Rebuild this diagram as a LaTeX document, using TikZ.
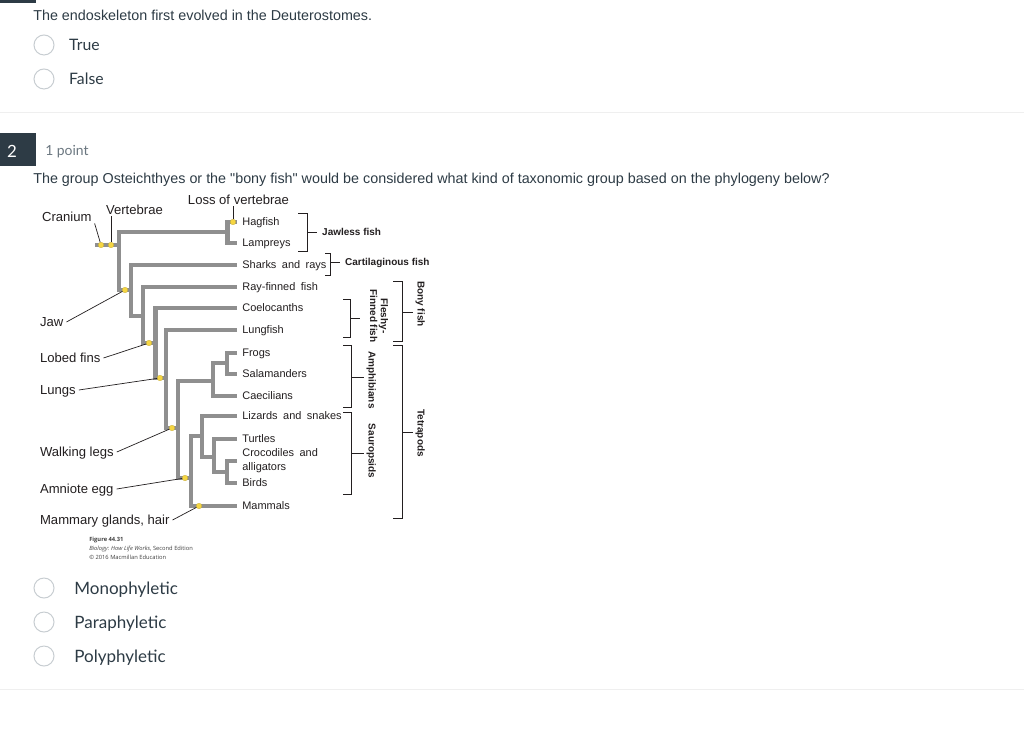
\documentclass[tikz,border=0pt]{standalone}
\usepackage{fontspec}
\setmainfont{Liberation Sans}[Ligatures=TeXOff]
\newfontfamily\latofont{Lato}
\newfontfamily\treefont[Ligatures=TeX, WordSpace=1.8]{Liberation Sans}
\newfontfamily\creditfont{Open Sans}
\usetikzlibrary{positioning}

\definecolor{canvasdark}{HTML}{2D3B45}
\definecolor{pointgray}{HTML}{6B7780}
\definecolor{radiogray}{HTML}{C7CDD1}
\definecolor{rulegray}{HTML}{EFEFEF}
\definecolor{branchgray}{RGB}{143,143,143}
\definecolor{dotyellow}{RGB}{246,214,66}
\definecolor{inkblack}{HTML}{231F20}

\begin{document}
\begin{tikzpicture}[x=0.025cm, y=-0.025cm,
  question/.style={anchor=base west, inner sep=0pt, text=canvasdark, font=\fontsize{10.2}{12}\selectfont},
  radio/.style={circle, draw=radiogray, line width=0.7pt, minimum size=0.5cm, inner sep=0pt},
  answer/.style={inner sep=0pt, text=canvasdark, font=\latofont\fontsize{11.2}{13}\selectfont, text height=8pt, text depth=0pt},
  bigans/.style={answer, font=\latofont\fontsize{12.1}{14}\selectfont, text height=8.7pt},
  branch/.style={draw=branchgray, line width=3.4pt},
  taxon/.style={anchor=west, inner xsep=3.6pt, inner ysep=0pt, text=inkblack, font=\treefont\fontsize{7.8}{10}\selectfont, text height=5.6pt, text depth=0pt},
  trait/.style={anchor=west, inner xsep=2pt, inner ysep=1pt, text=inkblack, font=\fontsize{9.3}{11}\selectfont, text height=6.7pt, text depth=0pt},
  dot/.style={circle, fill=dotyellow, draw=dotyellow!80!black, line width=0.2pt, minimum size=0.14cm, inner sep=0pt},
  leader/.style={draw=inkblack, line width=0.5pt},
  brack/.style={draw=inkblack, line width=0.6pt},
  group/.style={anchor=west, inner xsep=3.5pt, inner ysep=0pt, text=inkblack, font=\bfseries\fontsize{7.1}{7.6}\selectfont, text height=5.1pt, text depth=0pt},
  grouprot/.style={group, rotate=-90, anchor=south, inner xsep=0pt, inner ysep=3pt},
]
\fill[white] (0,0) rectangle (1024,741);
\useasboundingbox (0,0) rectangle (1024,741);

% page chrome
\fill[canvasdark] (0,0) rectangle (36,3);
\draw[rulegray, line width=0.7pt] (0,112) -- (1024,112);
\draw[rulegray, line width=0.7pt] (0,689) -- (1024,689);

% question 1
\node (q1) [question] at (33,21) {The endoskeleton first evolved in the Deuterostomes.};
\node (rtrue) [radio] at (44,45) {};
\node (rfalse) [radio] at (44,79) {};
\node (true) [answer, right=0.36cm of rtrue] {True};
\node (false) [answer, right=0.36cm of rfalse] {False};

% question 2
\fill[canvasdark] (0,133) rectangle (36,166);
\node (qnum) [inner sep=0pt, text=white, font=\latofont\fontsize{12}{14}\selectfont] at (12,151) {2};
\node (points) [anchor=base west, inner sep=0pt, text=pointgray, font=\latofont\fontsize{9.9}{12}\selectfont] at (45,156) {1 point};
\node (q2) [question] at (33,184) {The group Osteichthyes or the "bony fish" would be considered what kind of taxonomic group based on the phylogeny below?};

% taxa
\node (hagfish) [taxon] at (237,222) {Hagfish};
\node (lampreys) [taxon] at (237,243) {Lampreys};
\node (sharks) [taxon] at (237,265) {Sharks and rays};
\node (rayfinned) [taxon] at (237,287) {Ray-finned fish};
\node (coel) [taxon] at (237,308) {Coelocanths};
\node (lungfish) [taxon] at (237,330) {Lungfish};
\node (frogs) [taxon] at (237,353) {Frogs};
\node (salamanders) [taxon] at (237,374) {Salamanders};
\node (caecilians) [taxon] at (237,396) {Caecilians};
\node (lizards) [taxon] at (237,416) {Lizards and snakes};
\node (turtles) [taxon] at (237,439) {Turtles};
\node (croc) [taxon, align=left, text height={}, text depth={}] at (237,461) {Crocodiles and\\alligators};
\node (birds) [taxon] at (237,483) {Birds};
\node (mammals) [taxon] at (237,506) {Mammals};

% tree
\coordinate (base) at (95,245);
\coordinate (root) at (119,245);
\coordinate (cyclo) at (227.5,232);
\coordinate (gnatho) at (131,290);
\coordinate (osteo) at (143,316);
\coordinate (sarco) at (155.5,343);
\coordinate (rhipi) at (166,378);
\coordinate (tetra) at (178,428);
\coordinate (amphib) at (213,381);
\coordinate (batrach) at (227,363);
\coordinate (amnio) at (191,478);
\coordinate (sauro) at (202,436);
\coordinate (archelo) at (214,457);
\coordinate (archo) at (227,472);

\draw[branch] (base) -- (root);
\draw[branch] (cyclo) -| (root) |- (gnatho);
\draw[branch] (hagfish.west) -| (cyclo) |- (lampreys.west);
\draw[branch] (sharks.west) -| (gnatho) |- (osteo);
\draw[branch] (rayfinned.west) -| (osteo) |- (sarco);
\draw[branch] (coel.west) -| (sarco) |- (rhipi);
\draw[branch] (lungfish.west) -| (rhipi) |- (tetra);
\draw[branch] (amphib) -| (tetra) |- (amnio);
\draw[branch] (batrach) -| (amphib) |- (caecilians.west);
\draw[branch] (frogs.west) -| (batrach) |- (salamanders.west);
\draw[branch] (sauro) -| (amnio) |- (mammals.west);
\draw[branch] (lizards.west) -| (sauro) |- (archelo);
\draw[branch] (turtles.west) -| (archelo) |- (archo);
\draw[branch] (croc.west) -| (archo) |- (birds.west);

% traits
\node (craniumdot) [dot] at (101,245) {};
\node (vertebraedot) [dot] at (111,245) {};
\node (lossdot) [dot] at (233,222) {};
\node (jawdot) [dot] at (125,290) {};
\node (lobeddot) [dot] at (149,343) {};
\node (lungsdot) [dot] at (160,378) {};
\node (legsdot) [dot] at (172,428) {};
\node (eggdot) [dot] at (185,478) {};
\node (mammarydot) [dot] at (199,506) {};

\node (cranium) [trait] at (39,217) {Cranium};
\node (vertebrae) [trait] at (103,210) {Vertebrae};
\node (loss) [trait, anchor=center] at (238.5,200) {Loss of vertebrae};
\node (jaw) [trait] at (37,322) {Jaw};
\node (lobed) [trait] at (37,358) {Lobed fins};
\node (lungs) [trait] at (37,390) {Lungs};
\node (legs) [trait] at (37,452) {Walking legs};
\node (egg) [trait] at (37,489) {Amniote egg};
\node (mammary) [trait] at (37,520) {Mammary glands, hair};

\draw[leader] (cranium.south east) -- (craniumdot);
\draw[leader] (vertebraedot) -- (vertebraedot |- vertebrae.south);
\draw[leader] (lossdot) -- (lossdot |- loss.south);
\draw[leader] (jaw.east) -- (jawdot);
\draw[leader] (lobed.east) -- (lobeddot);
\draw[leader] (lungs.east) -- (lungsdot);
\draw[leader] (legs.east) -- (legsdot);
\draw[leader] (egg.east) -- (eggdot);
\draw[leader] (mammary.east) -- (mammarydot);

% groups
\coordinate (jawlessmid) at (307,232);
\coordinate (cartilmid) at (330,262);
\coordinate (fleshymid) at (350,318);
\coordinate (amphibmid) at (351,377);
\coordinate (sauromid) at (351,453);
\coordinate (bonymid) at (402,312);
\coordinate (tetramid) at (402,432);

\draw[brack] (298,213) -| (307,251) -- (298,251);
\draw[brack] (325,253) -| (330,275) -- (325,275);
\draw[brack] (343,299) -| (350,337) -- (343,337);
\draw[brack] (343,345) -| (351,407) -- (343,407);
\draw[brack] (343,412) -| (351,494) -- (343,494);
\draw[brack] (393,281) -| (402,341) -- (393,341);
\draw[brack] (393,345) -| (402,518) -- (393,518);

\node (jawless) [group] at (317,232) {Jawless fish};
\node (cartil) [group] at (340,262) {Cartilaginous fish};
\node (fleshy) [grouprot, align=center, text height={}, text depth={}, inner ysep=7pt] at (360,316) {Fleshy-\\Finned fish};
\node (amphibians) [grouprot] at (364,380) {Amphibians};
\node (sauropsids) [grouprot] at (364,451) {Sauropsids};
\node (bony) [grouprot] at (413,304) {Bony fish};
\node (tetrapods) [grouprot] at (413,433) {Tetrapods};

\draw[brack] (jawlessmid) -- (jawless);
\draw[brack] (cartilmid) -- (cartil);
\draw[brack] (fleshymid) -- (fleshymid -| fleshy.south);
\draw[brack] (amphibmid) -- (amphibmid -| amphibians.south);
\draw[brack] (sauromid) -- (sauromid -| sauropsids.south);
\draw[brack] (bonymid) -- (bonymid -| bony.south);
\draw[brack] (tetramid) -- (tetramid -| tetrapods.south);

% credit line
\node (credit) [anchor=north west, align=left, inner sep=0pt, text=black!75, font=\creditfont\fontsize{4.1}{6.4}\selectfont] at (89,537) {\textbf{Figure 44.31}\\\textit{Biology: How Life Works}, Second Edition\\© 2016 Macmillan Education};

% answers
\node (rmono) [radio] at (44,588) {};
\node (rpara) [radio] at (44,622) {};
\node (rpoly) [radio] at (44,656) {};
\node (mono) [bigans, right=0.49cm of rmono] {Monophyletic};
\node (para) [bigans, right=0.49cm of rpara] {Paraphyletic};
\node (poly) [bigans, right=0.49cm of rpoly] {Polyphyletic};
\end{tikzpicture}
\end{document}
